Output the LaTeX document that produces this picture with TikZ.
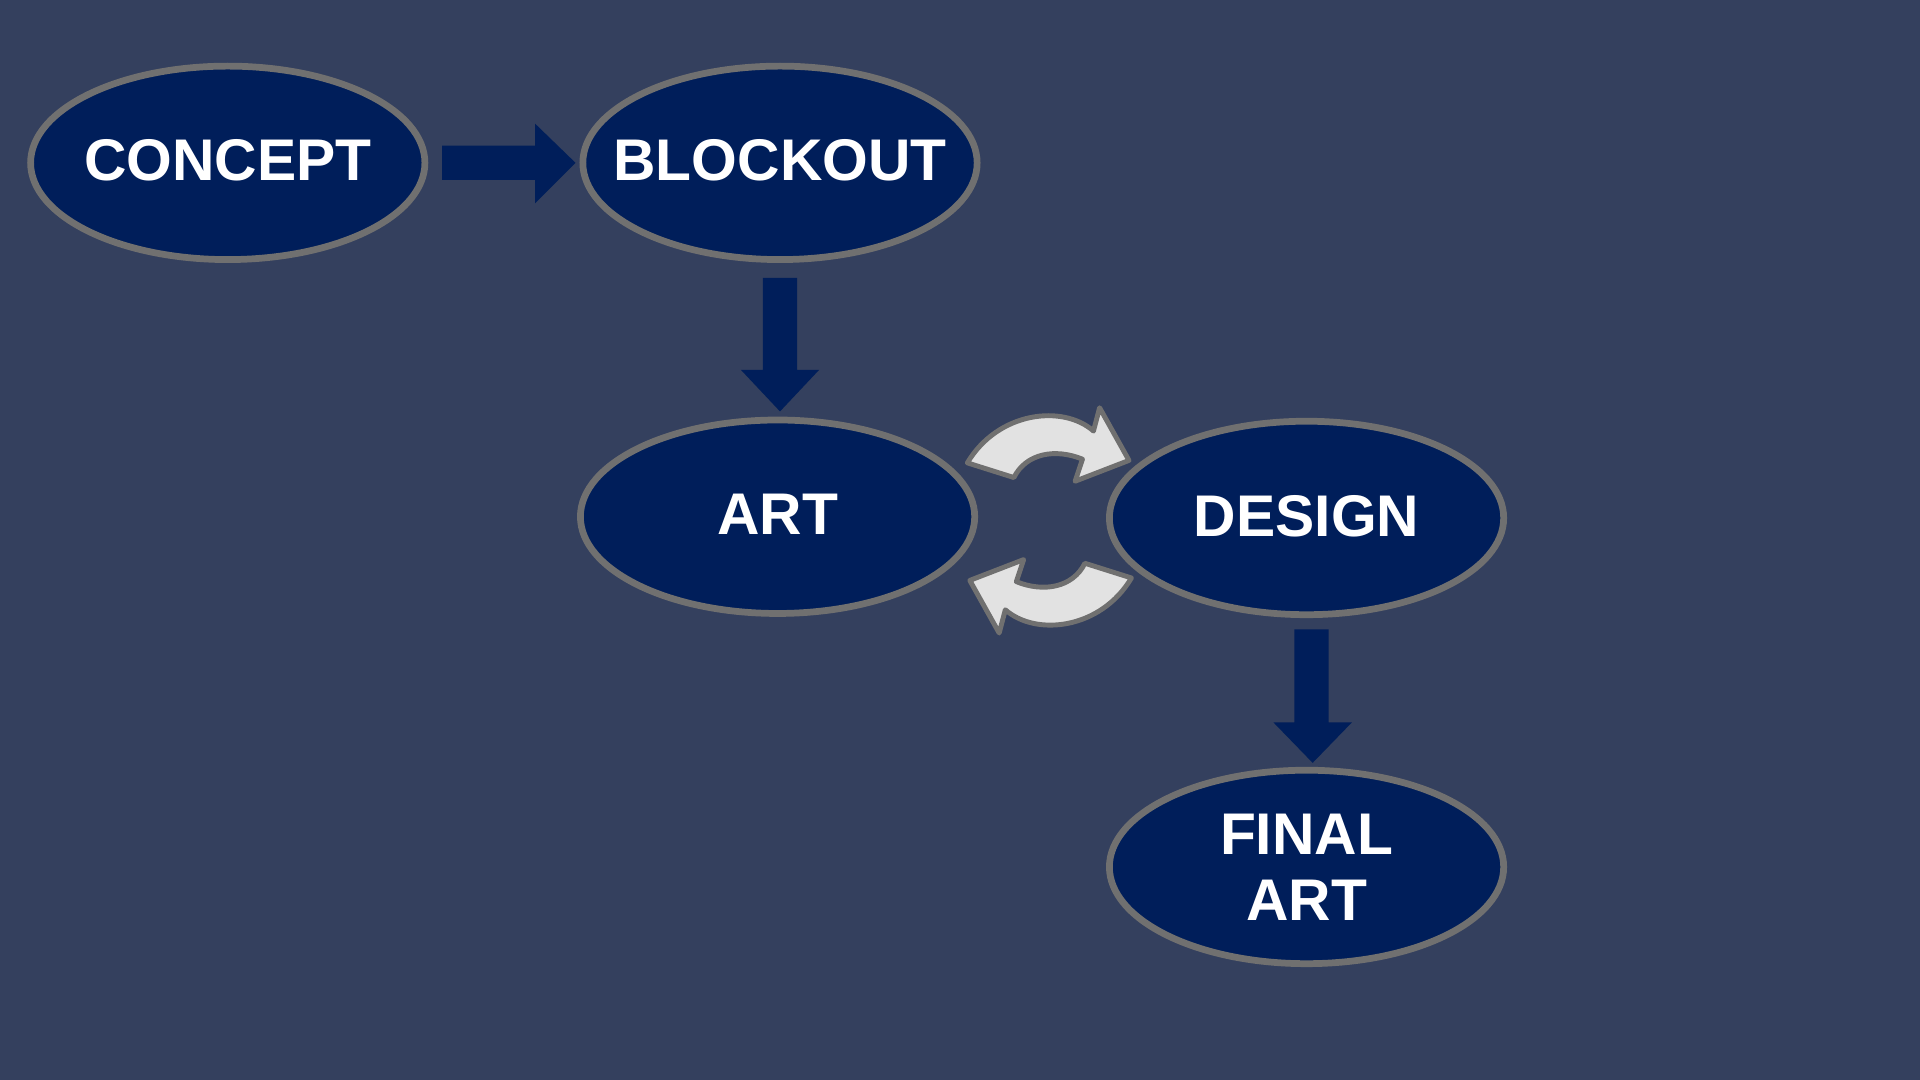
\documentclass[tikz,border=0pt]{standalone}
\usepackage{fontspec}
\setmainfont{Liberation Sans}
\usetikzlibrary{shapes.geometric}
\definecolor{bg}{HTML}{34405E}
\definecolor{nav}{HTML}{001E5A}
\definecolor{rim}{HTML}{707070}
\definecolor{lite}{HTML}{E2E2E2}
\tikzset{
 stage/.style={ellipse,draw=rim,line width=5.5pt,fill=nav,minimum width=322pt,minimum height=158pt,inner xsep=-40pt,inner ysep=0pt,text=white,font=\fontsize{48}{58}\selectfont\bfseries,align=center},
 blockarr/.style={fill=nav,draw=none},
 cyc/.style={fill=lite,draw=rim,line width=4pt,line join=round}
}
\begin{document}
\begin{tikzpicture}[x=1pt,y=-1pt]
\fill[bg] (0,0) rectangle (1568,882);
\useasboundingbox (0,0) rectangle (1568,882);
\node[stage] (concept) at (186,133) {\raisebox{4pt}{CONCEPT}};
\node[stage] (blockout) at (637,133) {\raisebox{4pt}{BLOCKOUT}};
\node[stage] (art) at (635,422) {\raisebox{4pt}{ART}};
\node[stage] (design) at (1067,423) {\raisebox{4pt}{DESIGN}};
\node[stage] (final) at (1067,708) {FINAL\\[-4pt]ART};
% block arrows
\fill[blockarr] (361,119) -- (437,119) -- (437,101) -- (470,133) -- (437,166) -- (437,147) -- (361,147) -- cycle;
\fill[blockarr] (623,227) -- (651,227) -- (651,302) -- (669,302) -- (637,336) -- (605,302) -- (623,302) -- cycle;
\fill[blockarr] (1057,514) -- (1085,514) -- (1085,590) -- (1104,590) -- (1072,623) -- (1040,590) -- (1057,590) -- cycle;
% cycle arrows
\draw[cyc] (790,378) .. controls (815,336) and (868,330) .. (893,352) -- (898,333) -- (922,376) -- (878,393) -- (884,375) .. controls (862,366) and (838,370) .. (828,390) -- cycle;
\draw[cyc] (924,472) .. controls (899,514) and (846,520) .. (821,498) -- (816,517) -- (792,474) -- (836,457) -- (830,475) .. controls (852,484) and (876,480) .. (886,460) -- cycle;
\end{tikzpicture}
\end{document}
